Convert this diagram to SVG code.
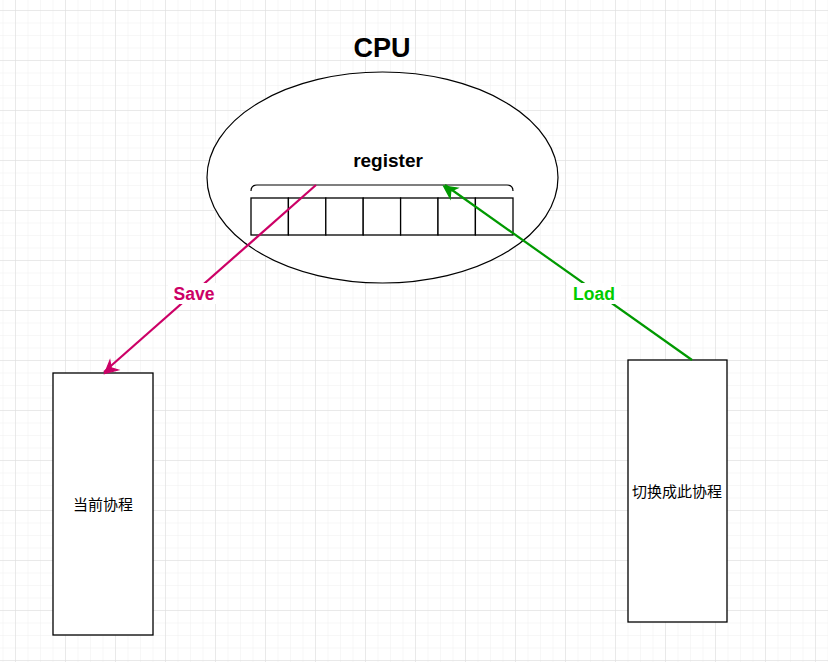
<svg xmlns="http://www.w3.org/2000/svg" width="828" height="662" viewBox="0 0 828 662">
<defs>
<pattern id="minor" width="12.5" height="12.5" patternUnits="userSpaceOnUse" x="2.5" y="10">
<path d="M0 0H12.5M0 0V12.5" fill="none" stroke="#f0f0f0" stroke-width="1"/>
</pattern>
<pattern id="major" width="50" height="50" patternUnits="userSpaceOnUse" x="15" y="10">
<path d="M0 0H50M0 0V50" fill="none" stroke="#dcdcdc" stroke-width="1"/>
</pattern>
<marker id="arrSave" viewBox="0 0 10 10" refX="9" refY="5" markerWidth="7" markerHeight="7" markerUnits="userSpaceOnUse" orient="auto" overflow="visible">
<path d="M0 0L10 5L0 10L3 5Z" fill="#CC0066" stroke="#CC0066" stroke-width="1" transform="scale(1.8) translate(-4.5 -3.5)"/>
</marker>
<marker id="arrLoad" viewBox="0 0 10 10" refX="9" refY="5" markerWidth="7" markerHeight="7" markerUnits="userSpaceOnUse" orient="auto" overflow="visible">
<path d="M0 0L10 5L0 10L3 5Z" fill="#009900" stroke="#009900" stroke-width="1" transform="scale(1.8) translate(-4.5 -3.5)"/>
</marker>
</defs>
<style>
text{font-family:"Liberation Sans",Arial,"Noto Sans CJK SC",sans-serif;}
.box{fill:#fff;stroke:#000;stroke-width:1.3;}
.cell{fill:#fff;stroke:#000;stroke-width:1.3;}
.b{font-weight:bold;text-anchor:middle;}
.zh{font-family:"Noto Sans CJK SC","Liberation Sans",sans-serif;font-size:15px;text-anchor:middle;}
</style>
<rect width="828" height="662" fill="#fff"/>
<rect width="828" height="662" fill="url(#minor)"/>
<rect width="828" height="662" fill="url(#major)"/>

<g id="cpu">
<text x="382" y="57" class="b" font-size="27">CPU</text>
<ellipse cx="382.5" cy="177.5" rx="175.5" ry="105.5" fill="#fff" stroke="#000" stroke-width="1.2"/>
</g>
<g id="register">
<text x="388" y="167" class="b" font-size="19">register</text>
<path d="M251 191Q251 185 257 185H507Q513 185 513 191" fill="none" stroke="#000" stroke-width="1.2"/>
<rect class="cell" x="251" y="198" width="37.4" height="37"/>
<rect class="cell" x="288.4" y="198" width="37.4" height="37"/>
<rect class="cell" x="325.8" y="198" width="37.4" height="37"/>
<rect class="cell" x="363.2" y="198" width="37.4" height="37"/>
<rect class="cell" x="400.6" y="198" width="37.4" height="37"/>
<rect class="cell" x="438" y="198" width="37.4" height="37"/>
<rect class="cell" x="475.4" y="198" width="37.6" height="37"/>
</g>
<g id="current">
<rect class="box" x="53" y="373" width="100" height="262"/>
<text x="103" y="510" class="zh">当前协程</text>
</g>
<g id="next">
<rect class="box" x="628" y="360" width="99" height="262"/>
<text x="677" y="497" class="zh">切换成此协程</text>
</g>
<g id="connectors">
<line x1="316" y1="185" x2="104" y2="372" stroke="#CC0066" stroke-width="2.2" marker-end="url(#arrSave)"/>
<line x1="692" y1="360" x2="445" y2="185" stroke="#009900" stroke-width="2.2" marker-end="url(#arrLoad)"/>
<rect x="168" y="283" width="52" height="21" fill="#fff"/>
<text x="194" y="300" class="b" font-size="17.5" fill="#CC0066">Save</text>
<rect x="567" y="283" width="54" height="21" fill="#fff"/>
<text x="594" y="300" class="b" font-size="17.5" fill="#00CC00">Load</text>
</g>
</svg>
